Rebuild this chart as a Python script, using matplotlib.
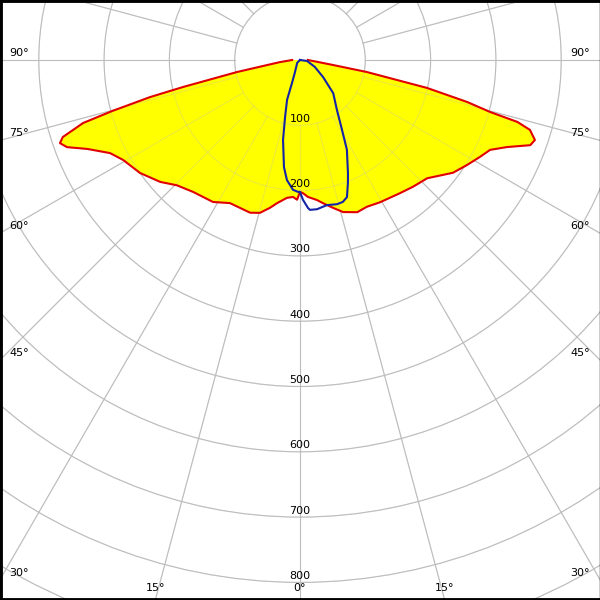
import numpy as np
import matplotlib
matplotlib.use('Agg')
import matplotlib.pyplot as plt
from matplotlib.patches import Circle, Polygon

# ── Luminous intensity (cd) ──────────────────────────────────────────────────
# C0 / C180 plane (red, filled yellow)
c0_gamma   = [0, 1.3, 3.3, 6.9, 9.1, 12.6, 15.8, 20.6, 24.5, 29.4, 36.9, 41.7, 47.1,
              53.6, 57.8, 61.7, 64.7, 67.2, 69.7, 71.2, 73.1, 74.1, 74.7, 75.9,
              77.6, 79.8, 81.4, 85, 90]
c0_int     = [202, 204, 210, 216, 222, 232, 242, 249, 247, 250, 255, 260, 266,
              291, 302, 313, 322, 344, 376, 380, 368, 346, 302, 264,
              199, 104, 51, 22, 12]
c180_gamma = [0, 1.2, 2.9, 5.4, 9.1, 11.5, 14.7, 18.1, 26.1, 31.5, 39.0, 44.5,
              48.9, 54.8, 60.5, 63.9, 67.3, 69.5, 70.9, 72.0, 73.8, 74.8, 76.1,
              77.0, 79.2, 84, 90]
c180_int   = [202, 214, 210, 212, 222, 231, 242, 246, 244, 255, 260, 269,
              284, 300, 311, 324, 353, 381, 389, 382, 346, 298, 237,
              184, 98, 31, 12]

# C90 / C270 plane (blue)
c90_gamma  = [0, 1.2, 3.1, 3.8, 6.5, 10.5, 14.4, 16.8, 18.9, 21.3, 23, 27.6, 31,
              36.5, 45, 53.5, 65, 82, 90]
c90_int    = [202, 214, 227, 230, 230, 226, 228, 227, 222, 202, 188, 155, 125,
              95, 72, 44, 25, 11, 0]
c270_gamma = [0, 0.9, 3.1, 6.2, 8.5, 12, 14.7, 18, 19.2, 22.6, 45, 90]
c270_int   = [202, 202, 199, 185, 166, 125, 90, 64, 37, 20, 6, 0]

ring_values  = list(range(100, 1100, 100))
ring_labels  = ['100', '200', '300', '400', '500', '600', '700', '800']
spoke_angles = list(range(0, 360, 15))
edge_angles  = [90, 75, 60, 45, 30, 15, 0]

# ── Geometry: 600 px figure, centre 300 px from left, 60 px from top ────────
PX = 0.653                      # pixels per cd
XL = 300 / PX
YT = 60 / PX
YB = -540 / PX


def half_plane(gamma, inten, side):
    g = np.radians(gamma)
    i = np.asarray(inten, float)
    return side * i * np.sin(g), -i * np.cos(g)


def draw_grid(ax, alpha, z):
    for r in ring_values:
        ax.add_patch(Circle((0, 0), r, fill=False, ec='#bdbdbd',
                            alpha=alpha, lw=0.8, zorder=z))
    for a in spoke_angles:
        t = np.radians(a)
        ax.plot([100 * np.sin(t), 1100 * np.sin(t)],
                [-100 * np.cos(t), -1100 * np.cos(t)],
                color='#bdbdbd', alpha=alpha, lw=0.8, zorder=z)


fig = plt.figure(figsize=(6, 6), dpi=100)
ax = fig.add_axes([0, 0, 1, 1])
ax.set_xlim(-XL, XL)
ax.set_ylim(YB, YT)
ax.set_aspect('equal')
ax.set_xticks([])
ax.set_yticks([])
for name, sp in ax.spines.items():
    sp.set_color('black')
    sp.set_linewidth(1.0 if name == 'right' else 3.5)

# red curve, left half from 90° down to 0°, then right half back up
lx, ly = half_plane(c180_gamma, c180_int, -1)
rx, ry = half_plane(c0_gamma, c0_int, 1)
red_x = np.concatenate([lx[::-1], rx])
red_y = np.concatenate([ly[::-1], ry])

draw_grid(ax, 1.0, 0.5)
ax.add_patch(Polygon(np.column_stack([red_x, red_y]), closed=True,
                     facecolor='#ffff00', edgecolor='none', zorder=1))
draw_grid(ax, 0.3, 1.5)      # faint lines showing through the fill

ax.plot(red_x, red_y, color='#e00000', lw=1.5, zorder=3)

bx1, by1 = half_plane(c270_gamma, c270_int, -1)
bx2, by2 = half_plane(c90_gamma, c90_int, 1)
ax.plot(np.concatenate([bx1[::-1], bx2]), np.concatenate([by1[::-1], by2]),
        color='#1424a8', lw=1.5, zorder=4)

# ring labels on the 0° axis
for r, lab in zip(ring_values, ring_labels):
    ax.text(0, -r + 6.5 / PX, lab, ha='center', va='center',
            fontsize=8, color='black', zorder=5)

# angle labels where the spokes leave the frame
for a in edge_angles:
    t = np.radians(a)
    if a > 0:
        d = XL / np.sin(t)
        y = -d * np.cos(t)
    else:
        y = YB - 1
    if y >= YB:
        yl = y + 7 / PX
        ax.text(-XL + 9 / PX, yl, f'{a}°', ha='left', va='center',
                fontsize=8, zorder=5)
        ax.text(XL - 10 / PX, yl, f'{a}°', ha='right', va='center',
                fontsize=8, zorder=5)
    else:
        xb = -YB * np.tan(t)
        yl = YB + 12 / PX
        ax.text(-xb, yl, f'{a}°', ha='center', va='center', fontsize=8, zorder=5)
        if a > 0:
            ax.text(xb, yl, f'{a}°', ha='center', va='center', fontsize=8, zorder=5)

fig.savefig('out.png', dpi=100)
